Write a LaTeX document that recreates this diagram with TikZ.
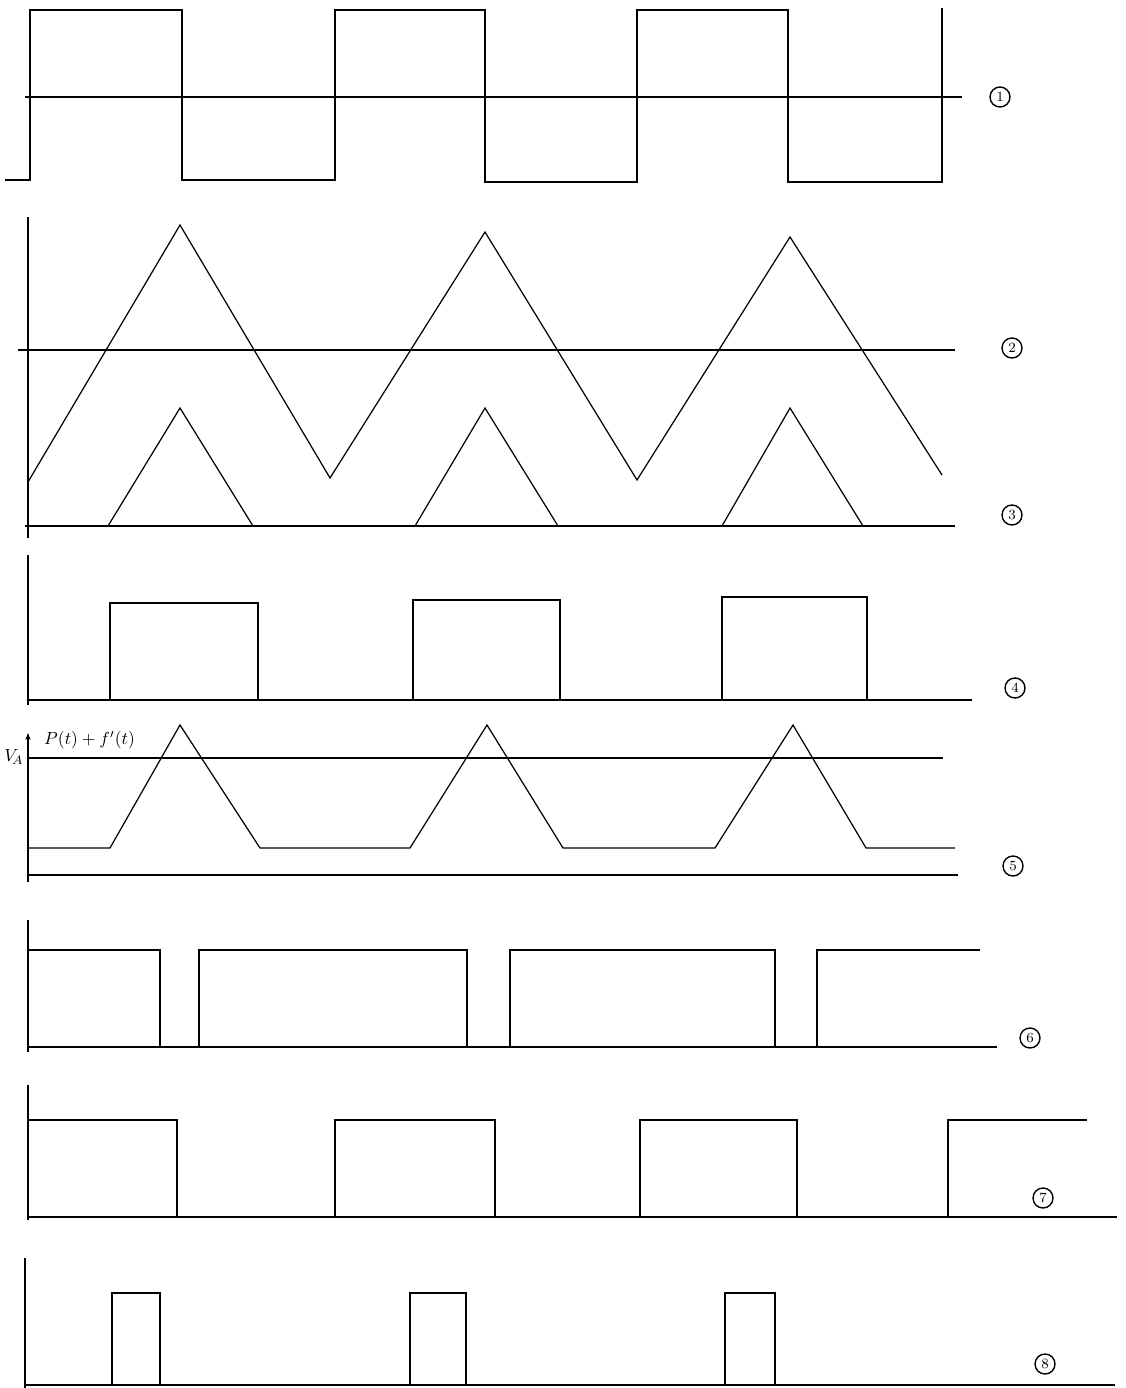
\documentclass[tikz,border=0pt]{standalone}
\usetikzlibrary{arrows.meta}
\tikzset{
  wave/.style={line width=0.7pt,line join=miter},
  axis/.style={line width=0.6pt},
  tag/.style={draw,circle,line width=0.8pt,inner sep=0.5pt,minimum size=0.4cm,font=\footnotesize}
}
\begin{document}
\begin{tikzpicture}[x=0.02cm,y=-0.02cm]
\useasboundingbox (0,0) rectangle (1125,1388);
% 1: square wave
\draw[axis] (25,97) -- (962,97);
\draw[wave] (5,180) -- (30,180) -- (30,10) -- (182,10) -- (182,180) -- (335,180) -- (335,10)
  -- (485,10) -- (485,182) -- (637,182) -- (637,10) -- (788,10) -- (788,182) -- (942,182) -- (942,8);
\node[tag] (t1) at (1000,97) {1};
% 2: triangle wave
\draw[axis] (28,217) -- (28,538);
\draw[axis] (18,350) -- (955,350);
\draw[wave] (28,482) -- (180,225) -- (330,478) -- (485,232) -- (637,480) -- (790,237) -- (942,475);
\node[tag] (t2) at (1012,348) {2};
% 3: clipped peaks
\draw[axis] (25,526) -- (955,526);
\foreach \a/\p/\b in {108/180/253, 415/485/558, 722/790/863}
  \draw[wave] (\a,526) -- (\p,408) -- (\b,526);
\node[tag] (t3) at (1012,515) {3};
% 4: pulses
\draw[axis] (28,555) -- (28,705);
\draw[axis] (28,700) -- (972,700);
\draw[wave] (110,700) -- (110,603) -- (258,603) -- (258,700);
\draw[wave] (413,700) -- (413,600) -- (560,600) -- (560,700);
\draw[wave] (722,700) -- (722,597) -- (867,597) -- (867,700);
\node[tag] (t4) at (1015,688) {4};
% 5: P(t)+f(t) against V_A
\draw[axis,-{Stealth[length=4pt,width=3pt]}] (28,882) -- (28,733);
\node (va) at (14,757) {$V_{\!A}$};
\node[anchor=west] (pf) at (38,740) {$P(t)+f'(t)$};
\draw[axis] (28,758) -- (943,758);
\draw[axis] (28,875) -- (958,875);
\draw[wave] (28,848) -- (110,848) -- (180,725) -- (260,848) -- (410,848) -- (487,725) -- (563,848)
  -- (715,848) -- (793,725) -- (866,848) -- (955,848);
\node[tag] (t5) at (1013,866) {5};
% 6
\draw[axis] (28,920) -- (28,1052);
\draw[axis] (28,1047) -- (997,1047);
\draw[wave] (28,950) -- (160,950) -- (160,1047);
\draw[wave] (199,1047) -- (199,950) -- (467,950) -- (467,1047);
\draw[wave] (510,1047) -- (510,950) -- (775,950) -- (775,1047);
\draw[wave] (817,1047) -- (817,950) -- (980,950);
\node[tag] (t6) at (1030,1038) {6};
% 7
\draw[axis] (28,1085) -- (28,1220);
\draw[axis] (28,1217) -- (1117,1217);
\draw[wave] (28,1120) -- (177,1120) -- (177,1217);
\draw[wave] (335,1217) -- (335,1120) -- (495,1120) -- (495,1217);
\draw[wave] (640,1217) -- (640,1120) -- (797,1120) -- (797,1217);
\draw[wave] (948,1217) -- (948,1120) -- (1087,1120);
\node[tag] (t7) at (1043,1198) {7};
% 8
\draw[axis] (25,1258) -- (25,1388);
\draw[axis] (25,1385) -- (1115,1385);
\foreach \a/\b in {112/160, 410/466, 725/775}
  \draw[wave] (\a,1385) -- (\a,1293) -- (\b,1293) -- (\b,1385);
\node[tag] (t8) at (1045,1364) {8};
\end{tikzpicture}
\end{document}
